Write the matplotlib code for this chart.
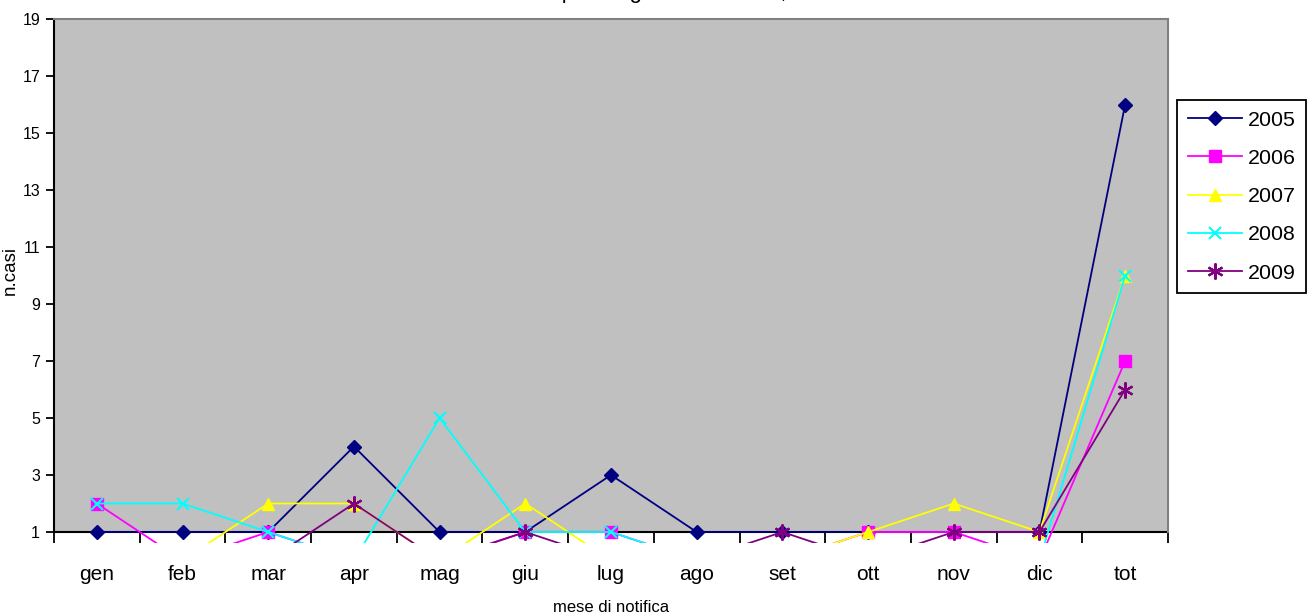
import matplotlib
matplotlib.use("Agg")
import matplotlib.pyplot as plt
from matplotlib.ticker import FixedLocator, NullFormatter

# ── Data ─────────────────────────────────────────────────────────────────────
months = ["gen", "feb", "mar", "apr", "mag", "giu", "lug",
          "ago", "set", "ott", "nov", "dic", "tot"]
years = ["2005", "2006", "2007", "2008", "2009"]

cases_2005 = [1, 1, 1, 4, 1, 1, 3, 1, 1, 1, 1, 1, 16]
cases_2006 = [2, 0, 1, 0, 0, 1, 1, 0, 0, 1, 1, 0, 7]
cases_2007 = [0, 0, 2, 2, 0, 2, 0, 0, 0, 1, 2, 1, 10]
cases_2008 = [2, 2, 1, 0, 5, 1, 1, 0, 0, 0, 0, 0, 10]
cases_2009 = [0, 0, 0, 2, 0, 1, 0, 0, 1, 0, 1, 1, 6]

y_ticks = [1, 3, 5, 7, 9, 11, 13, 15, 17, 19]

# ── Style (Excel-like) ───────────────────────────────────────────────────────
plt.rcParams["font.family"] = ["Liberation Sans", "DejaVu Sans"]

styles = [
    dict(color="#000080", marker="D", ms=7.5),
    dict(color="#FF00FF", marker="s", ms=8),
    dict(color="#FFFF00", marker="^", ms=9),
    dict(color="#00FFFF", marker="x", ms=9, mew=1.5),
    dict(color="#800080", marker=(6, 2, 0), ms=11.5, mew=1.6),
]
series = [cases_2005, cases_2006, cases_2007, cases_2008, cases_2009]

fig = plt.figure(figsize=(13.14, 6.16), dpi=100)
ax = fig.add_axes([54 / 1314, 1 - 543 / 616, (1168 - 54) / 1314, (543 - 19) / 616])
ax.set_facecolor("white")

x = list(range(len(months)))
ax.set_xlim(-0.5, len(months) - 0.5)
ax.set_ylim(1 - 11 / 28.5, 19)

# grey plot area stops at the category axis (y = 1)
ax.axhspan(1, 19, color="#C0C0C0", zorder=0, lw=0)

for yr, vals, st in zip(years, series, styles):
    ax.plot(x, vals, lw=1.3, label=yr, zorder=3, **st)

# spines
for s in ("top", "right"):
    ax.spines[s].set_color("#808080")
    ax.spines[s].set_linewidth(1.5)
ax.spines["right"].set_bounds(1, 19)
ax.spines["left"].set_bounds(1, 19)
ax.spines["left"].set_linewidth(1.5)
ax.spines["bottom"].set_position(("data", 1))
ax.spines["bottom"].set_linewidth(1.5)
ax.spines["bottom"].set_zorder(2)

# y axis
ax.set_yticks(y_ticks)
ax.set_yticklabels([str(t) for t in y_ticks],
                   family=["Liberation Sans Narrow", "Liberation Sans"], fontsize=11.5)
ax.tick_params(axis="y", direction="out", length=6, width=1.3, pad=4)

# x axis: tick marks between categories, labels at the centres
ax.xaxis.set_major_locator(FixedLocator([i - 0.5 for i in range(len(months) + 1)]))
ax.xaxis.set_major_formatter(NullFormatter())
ax.xaxis.set_minor_locator(FixedLocator(x))
ax.set_xticklabels(months, minor=True, fontsize=15)
ax.tick_params(axis="x", which="major", direction="out", length=8, width=1.3)
ax.tick_params(axis="x", which="minor", length=0, pad=24)

ax.set_xlabel("mese di notifica", fontsize=12, labelpad=11)
ax.set_ylabel("n.casi", fontsize=13.5, labelpad=2)
ax.yaxis.set_label_coords(-0.032, 0.52)

# title sits above the canvas, only descenders show
fig.text(511 / 1314, 1 + 2 / 616, "Casi per luogo di residenza, anni 2005-2009",
         ha="left", va="baseline", fontsize=16)

fig.legend(loc="upper left", bbox_to_anchor=(1177 / 1314, 1 - 100 / 616),
           borderaxespad=0, fontsize=15.4, frameon=True, fancybox=False,
           edgecolor="black", framealpha=1, handlelength=2.55,
           labelspacing=0.9, handletextpad=0.25, borderpad=0.5)
fig.legends[0].get_frame().set_linewidth(1.3)

fig.savefig("out.png", dpi=100)
